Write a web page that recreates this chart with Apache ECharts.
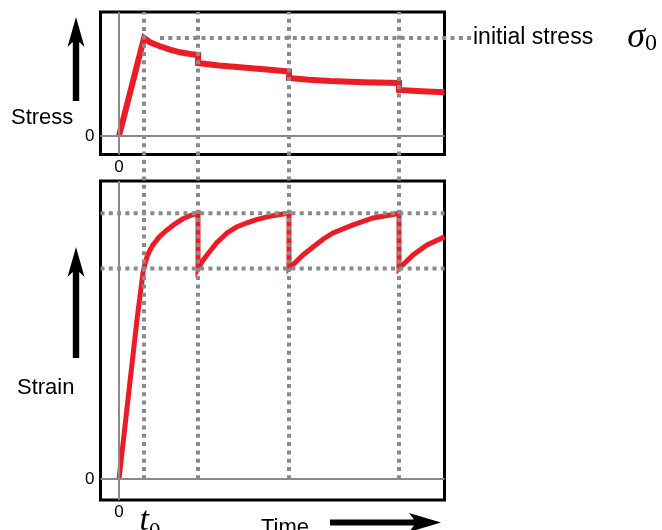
<!DOCTYPE html>
<html><head><meta charset="utf-8">
<script src="https://cdn.jsdelivr.net/npm/echarts@6/dist/echarts.min.js"></script>
<style>html,body{margin:0;padding:0;background:#fff}#c{width:662px;height:530px}</style>
</head><body><div id="c"></div>
<script>
// ---- data ----
const stepTimes = [1, 3.16, 6.8, 11.2];          // t0 and the later re-straining instants
const initialStress = 1.0;                        // sigma_0
const initialStressSpan = [1.64, 14.12];          // dotted guide extent (time units)
const strainLevels = [0.792, 1.0];                // dotted strain guide levels
const xLabelValues = [0, 1];                      // "0" and "t0"

const stressT = [0, 1, 1.24, 1.64, 2.04, 2.44, 2.84, 3.16, 3.16, 4.0, 4.96, 5.9, 6.8, 6.8, 7.6, 8.44, 9.8, 11.2, 11.2, 12.1, 13.02];
const stressV = [0, 1.0, 0.956, 0.915, 0.881, 0.854, 0.837, 0.827, 0.745, 0.72, 0.699, 0.678, 0.658, 0.592, 0.574, 0.561, 0.549, 0.541, 0.469, 0.457, 0.446];

const strainT = [0, 0.72, 0.96, 1.04, 1.12, 1.24, 1.36, 1.6, 1.92, 2.24, 2.56, 2.88, 3.16,
                 3.16, 3.3, 3.52, 3.9, 4.32, 4.7, 5.12, 5.5, 5.92, 6.36, 6.8,
                 6.8, 6.96, 7.35, 7.76, 8.16, 8.56, 9.36, 10.16, 10.96, 11.2,
                 11.2, 11.45, 11.76, 12.32, 13.02];
const strainV = [0, 0.6, 0.776, 0.81, 0.836, 0.862, 0.881, 0.91, 0.937, 0.96, 0.979, 0.992, 1.0,
                 0.792, 0.815, 0.843, 0.888, 0.926, 0.948, 0.964, 0.976, 0.986, 0.994, 1.0,
                 0.792, 0.806, 0.842, 0.873, 0.902, 0.926, 0.956, 0.982, 0.995, 1.0,
                 0.792, 0.815, 0.843, 0.881, 0.911];

// ---- layout ----
const XMIN = -0.74, XMAX = 13.02, PX_PER_T = 25;
const RED = '#ed1c24', GREY = '#8a8a8a';
const FONT = 'Liberation Sans, Arial, sans-serif';
const SERIF = 'Liberation Serif, Times New Roman, serif';
const dotted = { color: GREY, width: 4, type: [4, 4.3] };

const zip = (a, b) => a.map((v, i) => [v, b[i]]);

function xAxisCfg(gridIndex, labels, margin, max) {
  return {
    type: 'value', gridIndex, min: XMIN, max: max || XMAX,
    axisLine: { show: false }, axisTick: { show: false }, splitLine: { show: false },
    axisLabel: labels ? {
      customValues: labels, margin, color: '#000', fontFamily: FONT, fontSize: 17,
      formatter: v => v === 0 ? '0' : '{t|t}{s|0}',
      rich: {
        t: { fontFamily: SERIF, fontStyle: 'italic', fontSize: 34, color: '#000', padding: [0, 0, 0, 12], verticalAlign: 'top' },
        s: { fontFamily: SERIF, fontSize: 23, color: '#000', padding: [16, 0, 0, 0], verticalAlign: 'top' }
      }
    } : { show: false }
  };
}
function yAxisCfg(gridIndex, min, max, label) {
  return {
    type: 'value', gridIndex, min, max,
    axisLine: { show: false }, axisTick: { show: false }, splitLine: { show: false },
    axisLabel: label ? { customValues: [0], margin: 6, color: '#000', fontFamily: FONT, fontSize: 17, formatter: v => '0' } : { show: false }
  };
}
const zeroLines = (xi, yi) => ({
  type: 'line', xAxisIndex: xi, yAxisIndex: yi, data: [], silent: true, z: 1,
  markLine: {
    silent: true, symbol: 'none', label: { show: false },
    lineStyle: { color: GREY, width: 2, type: 'solid' },
    data: [{ xAxis: 0 }, { yAxis: 0 }]
  }
});

const series = [
  zeroLines(0, 0),
  zeroLines(1, 1),
  {
    type: 'line', xAxisIndex: 0, yAxisIndex: 0, data: zip(stressT, stressV),
    symbol: 'none', z: 3, lineStyle: { color: RED, width: 6, join: 'miter', miterLimit: 4 }
  },
  {
    type: 'line', xAxisIndex: 1, yAxisIndex: 1, data: zip(strainT, strainV),
    symbol: 'none', z: 3, lineStyle: { color: RED, width: 5, join: 'miter', miterLimit: 6 }
  },
  {
    type: 'line', xAxisIndex: 3, yAxisIndex: 3, z: 5,
    data: initialStressSpan.map(t => [t, initialStress]),
    symbol: 'none', lineStyle: dotted,
    endLabel: {
      show: true, distance: 1, color: '#000',
      formatter: '{a|initial stress}{s|σ}{z|0}',
      rich: {
        a: { fontFamily: FONT, fontSize: 23, color: '#000', verticalAlign: 'middle' },
        s: { fontFamily: SERIF, fontStyle: 'italic', fontSize: 36, color: '#000', padding: [0, 0, 0, 34], verticalAlign: 'middle' },
        z: { fontFamily: SERIF, fontSize: 24, color: '#000', padding: [12, 0, 0, 0], verticalAlign: 'middle' }
      }
    }
  },
  ...strainLevels.map(L => ({
    type: 'line', xAxisIndex: 1, yAxisIndex: 1, z: 5,
    data: [[XMIN, L], [XMAX, L]], symbol: 'none', lineStyle: dotted
  })),
  ...stepTimes.map(t => ({
    type: 'line', xAxisIndex: 2, yAxisIndex: 2, z: 5,
    data: [[t, 0], [t, 1]], symbol: 'none', lineStyle: dotted
  }))
];

function arrowUp(cx, tip, base) {
  return { type: 'polygon', shape: { points: [[cx, tip], [cx + 8.5, tip + 30], [cx + 3.2, tip + 25], [cx + 3.2, base], [cx - 3.2, base], [cx - 3.2, tip + 25], [cx - 8.5, tip + 30]] }, style: { fill: '#000' } };
}

const guideMax = initialStressSpan[1];
const option = {
  animation: false,
  backgroundColor: '#fff',
  grid: [
    { left: 100.5, top: 12, width: 344, height: 142.5, show: true, borderColor: '#000', borderWidth: 3, backgroundColor: 'transparent', containLabel: false, outerBoundsMode: 'none' },
    { left: 100.5, top: 181, width: 344, height: 319, show: true, borderColor: '#000', borderWidth: 3, backgroundColor: 'transparent', containLabel: false, outerBoundsMode: 'none' },
    { left: 100.5, top: 12, width: 344, height: 467.3, show: false, containLabel: false, outerBoundsMode: 'none' },
    { left: 100.5, top: 12, width: (guideMax - XMIN) * PX_PER_T, height: 142.5, show: false, containLabel: false, outerBoundsMode: 'none' }
  ],
  xAxis: [xAxisCfg(0, [0], 4), xAxisCfg(1, xLabelValues, 4), xAxisCfg(2, null, 0), xAxisCfg(3, null, 0, guideMax)],
  yAxis: [yAxisCfg(0, -0.189, 1.265, true), yAxisCfg(1, -0.078, 1.121, true), yAxisCfg(2, 0, 1, false), yAxisCfg(3, -0.189, 1.265, false)],
  series,
  graphic: [
    arrowUp(76, 17, 101),
    arrowUp(76, 247, 358),
    { type: 'polygon', shape: { points: [[330, 519.5], [414, 519.5], [409, 513], [441, 522.5], [409, 532], [414, 525.5], [330, 525.5]] }, style: { fill: '#000' } },
    { type: 'text', style: { x: 11, y: 118, text: 'Stress', font: '22px ' + FONT, fill: '#000', verticalAlign: 'middle' } },
    { type: 'text', style: { x: 17, y: 388, text: 'Strain', font: '22px ' + FONT, fill: '#000', verticalAlign: 'middle' } },
    { type: 'text', style: { x: 261, y: 528, text: 'Time', font: '22px ' + FONT, fill: '#000', verticalAlign: 'middle' } }
  ]
};
echarts.init(document.getElementById('c'), null, { renderer: 'canvas' }).setOption(option);
</script>
</body></html>
